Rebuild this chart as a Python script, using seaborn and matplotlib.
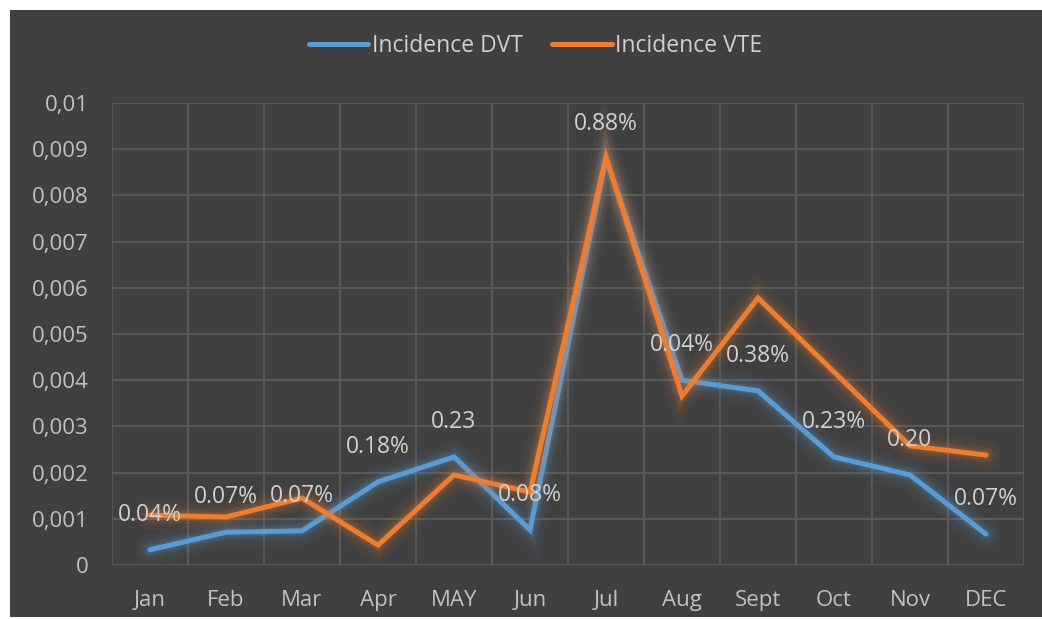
import numpy as np
import pandas as pd
import matplotlib
matplotlib.use("Agg")
import matplotlib.pyplot as plt
import matplotlib.patheffects as pe
from matplotlib.patches import Rectangle
from matplotlib.ticker import MultipleLocator, FuncFormatter
import seaborn as sns

# Data
months = ["Jan", "Feb", "Mar", "Apr", "MAY", "Jun", "Jul", "Aug", "Sept", "Oct", "Nov", "DEC"]
dvt = [0.00033, 0.00071, 0.00074, 0.0018, 0.00234, 0.00076, 0.0088, 0.0040, 0.00377, 0.00234, 0.00195, 0.00067]
vte = [0.00108, 0.00104, 0.00145, 0.00043, 0.00195, 0.00158, 0.00883, 0.00366, 0.00578, 0.00418, 0.00258, 0.00238]
labels = ["0.04%", "0.07%", "0.07%", "0.18%", "0.23", "0.08%", "0.88%", "0.04%", "0.38%", "0.23%", "0.20", "0.07%"]

series_names = ["Incidence DVT", "Incidence VTE"]
colors = {"Incidence DVT": "#5b9bd5", "Incidence VTE": "#ed7d31"}

df = pd.DataFrame({
    "month": months * 2,
    "value": dvt + vte,
    "series": [series_names[0]] * len(months) + [series_names[1]] * len(months),
})

sns.set_style("dark")
plt.rcParams["font.family"] = ["Open Sans", "DejaVu Sans"]

bg = "#404040"
grid_col = "#5b5b5b"
tick_col = "#c0c0c0"

fig = plt.figure(figsize=(10.42, 6.19), dpi=100, facecolor="white")
# dark chart area inside a thin white margin
fig.patches.append(Rectangle((10 / 1042, 2 / 619), 1 - 10 / 1042, 1 - 12 / 619,
                             transform=fig.transFigure, facecolor=bg,
                             edgecolor="none", zorder=-10))
ax = fig.add_axes([0.1075, 0.0872, 0.8752, 0.7464])
ax.set_facecolor(bg)

sns.lineplot(data=df, x="month", y="value", hue="series", palette=colors,
             sort=False, linewidth=3.6, ax=ax, legend=False)

# soft glow around the lines
for line in ax.get_lines():
    c = line.get_color()
    line.set_solid_capstyle("round")
    line.set_solid_joinstyle("miter")
    line.set_path_effects([
        pe.Stroke(linewidth=22, foreground=c, alpha=0.04),
        pe.Stroke(linewidth=16, foreground=c, alpha=0.06),
        pe.Stroke(linewidth=11, foreground=c, alpha=0.10),
        pe.Stroke(linewidth=7, foreground=c, alpha=0.15),
        pe.Normal(),
    ])

# data labels above the DVT points
for i, (m, v, t) in enumerate(zip(months, dvt, labels)):
    ax.annotate(t, (i, v), xytext=(0, 25), textcoords="offset points",
                ha="center", va="center", fontsize=16.5, color="#d0d0d0", zorder=10)

ax.set_xlim(-0.5, len(months) - 0.5)
ax.set_ylim(0, 0.01)
ax.yaxis.set_major_locator(MultipleLocator(0.001))
ax.yaxis.set_major_formatter(FuncFormatter(lambda v, p: f"{round(v, 4):g}".replace(".", ",")))
ax.set_xticks(range(len(months)))
ax.set_xticks(np.arange(len(months) + 1) - 0.5, minor=True)

ax.grid(False)
ax.grid(axis="y", which="major", color=grid_col, linewidth=1.3)
ax.grid(axis="x", which="minor", color=grid_col, linewidth=1.3)
for s in ax.spines.values():
    s.set_visible(False)

ax.tick_params(axis="both", which="both", length=0, colors=tick_col, labelsize=16)
ax.tick_params(axis="y", pad=17)
ax.tick_params(axis="x", pad=18)
ax.set_xlabel("")
ax.set_ylabel("")

handles = [plt.Line2D([], [], color=colors[n], linewidth=3.6, solid_capstyle="round") for n in series_names]
leg = fig.legend(handles, series_names, loc="center", bbox_to_anchor=(0.514, 0.926),
                 ncol=2, frameon=False, fontsize=16.5, handlelength=2.6,
                 handletextpad=0.15, columnspacing=1.3)
for t in leg.get_texts():
    t.set_color("#d0d0d0")

fig.savefig("out.png", dpi=100, facecolor=fig.get_facecolor())
